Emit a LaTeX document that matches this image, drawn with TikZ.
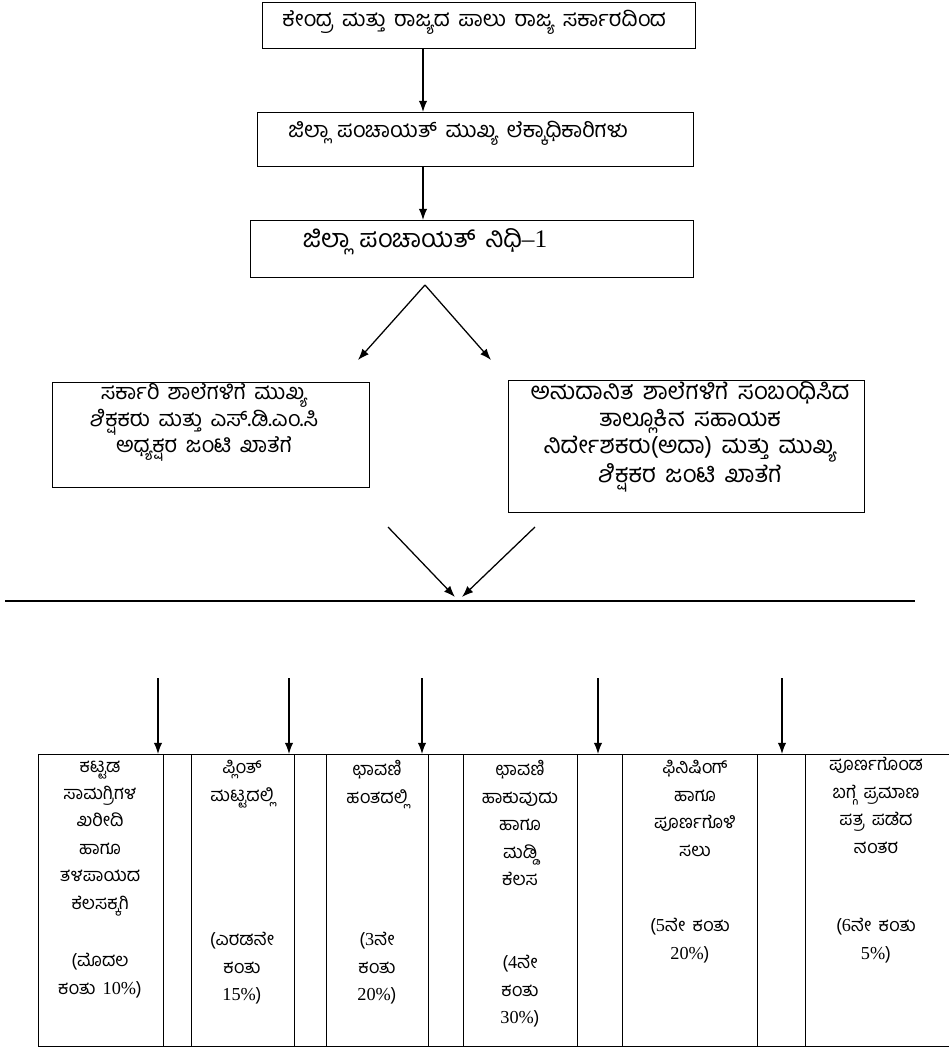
\documentclass[tikz,border=0pt]{standalone}
\usepackage{fontspec}
\setmainfont[Script=Kannada,WordSpace=1.6]{Hind Mysuru}
\newfontfamily\lat{Liberation Serif}
\usetikzlibrary{shapes}
\usetikzlibrary{arrows.meta}

\newlength{\px}
\setlength{\px}{0.025cm}

\begin{document}
\begin{tikzpicture}[x=0.025cm,y=-0.025cm,>={Latex[length=8pt,width=6pt]},line width=0.9pt,
    box/.style={draw,shape=rectangle,inner sep=0pt,anchor=north west},
    txt/.style={inner sep=0pt,align=center,anchor=north,font=\fontsize{15.5}{17}\selectfont},
    cell/.style={inner sep=0pt,align=center,anchor=north,font=\fontsize{13}{19.5}\selectfont}]
    \useasboundingbox (0,0) rectangle (949,1048);

    % boxes of the upper part
    \draw (262,2) node [box,minimum width=433\px,minimum height=46\px] (src) {} ;
    \draw (257,112) node [box,minimum width=436\px,minimum height=54\px] (ceo) {} ;
    \draw (250,220) node [box,minimum width=443\px,minimum height=57\px] (fund) {} ;
    \draw (52,382) node [box,minimum width=317\px,minimum height=105\px] (govt) {} ;
    \draw (508,380) node [box,minimum width=356\px,minimum height=132\px] (aided) {} ;

    \draw (474,10) node [txt] (srctext) {ಕೇಂದ್ರ ಮತ್ತು ರಾಜ್ಯದ ಪಾಲು ರಾಜ್ಯ ಸರ್ಕಾರದಿಂದ} ;
    \draw (458,121) node [txt] (ceotext) {ಜಿಲ್ಲಾ ಪಂಚಾಯತ್ ಮುಖ್ಯ ಲೆಕ್ಕಾಧಿಕಾರಿಗಳು} ;
    \draw (425,228) node [txt,font=\fontsize{18}{20}\selectfont] (fundtext) {ಜಿಲ್ಲಾ ಪಂಚಾಯತ್ ನಿಧಿ{\lat –1}} ;
    \draw (204,383) node [txt,font=\fontsize{15.5}{16.5}\selectfont] (govttext)
        {ಸರ್ಕಾರಿ ಶಾಲೆಗಳಿಗೆ ಮುಖ್ಯ\\ಶಿಕ್ಷಕರು ಮತ್ತು ಎಸ್.ಡಿ.ಎಂ.ಸಿ\\ಅಧ್ಯಕ್ಷರ ಜಂಟಿ ಖಾತೆಗೆ} ;
    \draw (690,381) node [txt,font=\fontsize{17}{19.2}\selectfont] (aidedtext)
        {ಅನುದಾನಿತ ಶಾಲೆಗಳಿಗೆ ಸಂಬಂಧಿಸಿದ\\ತಾಲ್ಲೂಕಿನ ಸಹಾಯಕ\\ನಿರ್ದೇಶಕರು(ಅದಾ) ಮತ್ತು ಮುಖ್ಯ\\ಶಿಕ್ಷಕರ ಜಂಟಿ ಖಾತೆಗೆ} ;

    \coordinate (spine) at (423,0);
    \draw[->] (src.south -| spine) -- (ceo.north -| spine);
    \draw[->] (ceo.south -| spine) -- (fund.north -| spine);

    % split and merge
    \coordinate (apex) at (425,285);
    \coordinate (vl) at (358,360);
    \coordinate (vr) at (491,360);
    \draw[->] (apex) -- (vl);
    \draw[->] (apex) -- (vr);

    \coordinate (ml) at (388,527);
    \coordinate (mr) at (535,527);
    \coordinate (mlend) at (455,597);
    \coordinate (mrend) at (462,597);
    \draw[->] (ml) -- (mlend);
    \draw[->] (mr) -- (mrend);

    \coordinate (hl) at (5,601);
    \coordinate (hr) at (915,601);
    \draw (hl) -- (hr);

    % table of the instalments
    \coordinate (tl) at (38,754);
    \coordinate (tr) at (949,754);
    \draw[line width=0.7pt] (tl) -- (tr);
    \draw[line width=0.7pt] (38,1046) -- (949,1046);
    \foreach \x in {38,163,191,294,326,428,463,577,622,757,805}
        \draw[line width=0.6pt] (\x,754) -- (\x,1046);

    \foreach \x [count=\i] in {158,289,422,598,782} {
        \coordinate (drop\i) at (\x,678);
        \draw[->] (drop\i) -- (drop\i |- tl);
    }

    \draw (100,760) node [cell] (cola) {ಕಟ್ಟಡ\\ಸಾಮಗ್ರಿಗಳ\\ಖರೀದಿ\\ಹಾಗೂ\\ತಳಪಾಯದ\\ಕೆಲಸಕ್ಕಗಿ} ;
    \draw (242,760) node [cell] (colb) {ಪ್ಲಿಂತ್\\ಮಟ್ಟದಲ್ಲಿ} ;
    \draw (377,760) node [cell] (colc) {ಛಾವಣಿ\\ಹಂತದಲ್ಲಿ} ;
    \draw (520,760) node [cell] (cold) {ಛಾವಣಿ\\ಹಾಕುವುದು\\ಹಾಗೂ\\ಮಡ್ಡಿ\\ಕೆಲಸ} ;
    \draw (695,760) node [cell] (cole) {ಫಿನಿಷಿಂಗ್\\ಹಾಗೂ\\ಪೂರ್ಣಗೊಳಿ\\ಸಲು} ;
    \draw (876,757) node [cell] (colf) {ಪೂರ್ಣಗೊಂಡ\\ಬಗ್ಗೆ ಪ್ರಮಾಣ\\ಪತ್ರ ಪಡೆದ\\ನಂತರ} ;

    \draw (100,953) node [cell] (insta) {(ಮೊದಲ\\ಕಂತು {\lat 10\%})} ;
    \draw (242,932) node [cell] (instb) {(ಎರಡನೇ\\ಕಂತು\\{\lat 15\%})} ;
    \draw (377,932) node [cell] (instc) {({\lat 3}ನೇ\\ಕಂತು\\{\lat 20\%})} ;
    \draw (520,955) node [cell] (instd) {({\lat 4}ನೇ\\ಕಂತು\\{\lat 30\%})} ;
    \draw (690,918) node [cell] (inste) {({\lat 5}ನೇ ಕಂತು\\{\lat 20\%})} ;
    \draw (876,918) node [cell] (instf) {({\lat 6}ನೇ ಕಂತು\\{\lat 5\%})} ;
\end{tikzpicture}
\end{document}
